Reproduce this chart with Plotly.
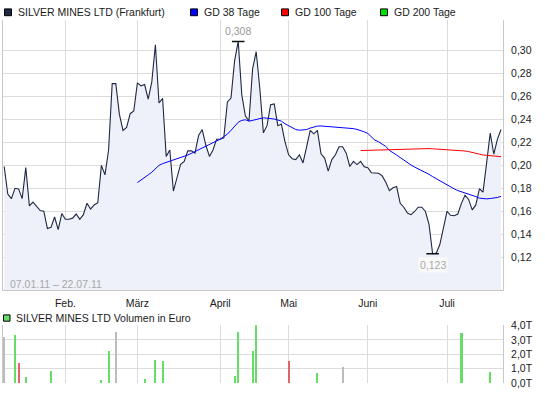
import plotly.graph_objects as go
import pandas as pd

# ---------------- data ----------------
start_date = "2011-01-07"
end_date = "2011-07-22"
exchange_holidays = ["2011-04-22", "2011-04-25"]

price = [
    0.199, 0.175, 0.171, 0.180, 0.1795, 0.171, 0.198, 0.1646, 0.168, 0.164,
    0.1606, 0.160, 0.145, 0.146, 0.155, 0.144, 0.158, 0.153, 0.153, 0.154,
    0.1576, 0.153, 0.157, 0.167, 0.162, 0.1655, 0.1674, 0.200, 0.1917, 0.2134,
    0.2712, 0.2712, 0.2444, 0.2304, 0.233, 0.245, 0.2473, 0.2718, 0.2693, 0.2704,
    0.2577, 0.2727, 0.305, 0.2543, 0.2583, 0.2078, 0.2134, 0.1776, 0.1894, 0.2010,
    0.2035, 0.2126, 0.2126, 0.2106, 0.2261, 0.2312, 0.2177, 0.2078, 0.2134, 0.2228,
    0.2228, 0.2239, 0.2552, 0.2586, 0.291, 0.308, 0.2614, 0.243, 0.2388, 0.284,
    0.299, 0.267, 0.2283, 0.2346, 0.2529, 0.2535, 0.2346, 0.236, 0.2205, 0.2092,
    0.2058, 0.205, 0.2092, 0.2021, 0.2162, 0.2304, 0.2275, 0.2304, 0.210, 0.2063,
    0.195, 0.205, 0.2092, 0.2162, 0.2162, 0.2106, 0.199, 0.2035, 0.2007, 0.2035,
    0.1987, 0.1979, 0.1936, 0.1936, 0.1931, 0.1908, 0.1852, 0.178, 0.1804, 0.1815,
    0.1669, 0.1635, 0.1584, 0.157, 0.1598, 0.1635, 0.1635, 0.1598, 0.1485, 0.123,
    0.1235, 0.131, 0.146, 0.1598, 0.1565, 0.1561, 0.1576, 0.1669, 0.174, 0.1703,
    0.1612, 0.1655, 0.1796, 0.1767, 0.2021, 0.2281, 0.2097, 0.2228, 0.2312,
]

gd38 = [
    0.185, 0.187, 0.189, 0.1917, 0.194, 0.197, 0.200, 0.2015, 0.2025, 0.2035,
    0.2045, 0.2055, 0.2065, 0.2078, 0.209, 0.2105, 0.212, 0.2135, 0.215, 0.2165,
    0.218, 0.2195, 0.221, 0.2228, 0.225, 0.2272, 0.2305, 0.2345, 0.2375, 0.2392,
    0.2397, 0.2385, 0.2392, 0.2402, 0.2412, 0.2414, 0.2411, 0.241, 0.2403, 0.2395,
    0.2385, 0.2362, 0.2345, 0.2325, 0.2312, 0.2306, 0.2306, 0.2312, 0.2325, 0.2336,
    0.2342, 0.2343, 0.2341, 0.2338, 0.2336, 0.2333, 0.2329, 0.2327, 0.2325, 0.2323,
    0.232, 0.2313, 0.2305, 0.2292, 0.2278, 0.2245, 0.2219, 0.2205, 0.2185, 0.2165,
    0.213, 0.2106, 0.209, 0.2068, 0.2045, 0.2025, 0.2003, 0.1985, 0.197, 0.1955,
    0.194, 0.1922, 0.1902, 0.1883, 0.1866, 0.1848, 0.1826, 0.181, 0.1795, 0.178,
    0.177, 0.1759, 0.1752, 0.1742, 0.1728, 0.1714, 0.1708, 0.1708, 0.1711, 0.1714,
    0.172, 0.173,
]

gd100 = [
    0.2129, 0.213, 0.2131, 0.2132, 0.2133, 0.2135, 0.2136, 0.2137, 0.2139, 0.214,
    0.2141, 0.2142, 0.2143, 0.2144, 0.2145, 0.2146, 0.2147, 0.2148, 0.2147, 0.2146,
    0.2144, 0.2142, 0.214, 0.2139, 0.2138, 0.2136, 0.2134, 0.2133, 0.213, 0.2125,
    0.212, 0.2112, 0.2103, 0.2095, 0.209, 0.2087, 0.2085, 0.2082, 0.2079, 0.2076,
]

vol_dates = [
    "2011-01-07", "2011-01-12", "2011-01-13", "2011-01-17", "2011-01-26",
    "2011-02-15", "2011-02-17", "2011-02-21", "2011-03-03", "2011-03-08",
    "2011-03-10", "2011-04-07", "2011-04-08", "2011-04-14", "2011-04-15",
    "2011-05-02", "2011-05-12", "2011-05-23", "2011-07-07", "2011-07-19",
]
vol_values = [  # thousand euros
    3.2, 3.31, 1.39, 0.46, 0.85,
    0.23, 2.22, 3.52, 0.30, 1.60,
    1.53, 0.53, 3.52, 2.22, 4.0,
    1.53, 0.71, 1.12, 3.45, 0.78,
]

month_labels = ["Feb.", "März", "April", "Mai", "Juni", "Juli"]
price_ticks = [0.12, 0.14, 0.16, 0.18, 0.20, 0.22, 0.24, 0.26, 0.28, 0.30]
vol_ticks = [0, 1, 2, 3, 4]
vol_tick_labels = ["0,0T", "1,0T", "2,0T", "3,0T", "4,0T"]

series_names = ["SILVER MINES LTD (Frankfurt)", "GD 38 Tage", "GD 100 Tage", "GD 200 Tage"]
series_colors = ["#1e2844", "#0000ff", "#ff0000", "#00dd00"]
volume_name = "SILVER MINES LTD Volumen in Euro"

# ---------------- derived ----------------
days = [d for d in pd.bdate_range(start_date, end_date)
        if d.strftime("%Y-%m-%d") not in exchange_holidays][:len(price)]
pos = list(range(len(days)))
day_str = [d.strftime("%Y-%m-%d") for d in days]

month_pos = [i for i in range(1, len(days)) if days[i].month != days[i - 1].month]

pos38 = pos[len(pos) - len(gd38):]
pos100 = pos[len(pos) - len(gd100):]

vol_pos = [day_str.index(d) for d in vol_dates]
vol_colors = []
for p in vol_pos:
    if p == 0 or price[p] == price[p - 1]:
        vol_colors.append("#bcbcbc")
    elif price[p] > price[p - 1]:
        vol_colors.append("#66dd66")
    else:
        vol_colors.append("#dd6666")

imax = max(pos, key=lambda i: price[i])
imin = min(pos, key=lambda i: price[i])

W, H = 545, 398
ML, MR = 3, 42
PW = W - ML - MR


def px(x):
    return (x - ML) / PW


def py(y):
    return (H - y) / H


FONT = "Liberation Sans, Arial, sans-serif"
GRID = "#dcdcdc"
LINE = "#c8c8c8"
TXT = "#1a1a1a"

fig = go.Figure()

fig.add_trace(go.Scatter(
    x=pos, y=price, mode="lines", fill="tozeroy", fillcolor="#eef1f9",
    line=dict(color=series_colors[0], width=1.1), hoverinfo="skip",
    xaxis="x", yaxis="y"))
fig.add_trace(go.Scatter(
    x=pos38, y=gd38, mode="lines", line=dict(color=series_colors[1], width=1),
    hoverinfo="skip", xaxis="x", yaxis="y"))
fig.add_trace(go.Scatter(
    x=pos100, y=gd100, mode="lines", line=dict(color=series_colors[2], width=1),
    hoverinfo="skip", xaxis="x", yaxis="y"))
fig.add_trace(go.Scatter(
    x=[imax, imin], y=[price[imax], price[imin]], mode="markers",
    marker=dict(symbol="line-ew", size=9, line=dict(width=1.5, color="#111111")),
    hoverinfo="skip", xaxis="x", yaxis="y"))

fig.add_trace(go.Bar(
    x=vol_pos, y=vol_values, width=0.6, marker=dict(color=vol_colors, line=dict(width=0)),
    hoverinfo="skip", xaxis="x2", yaxis="y2"))


def fmt(v):
    return ("%.3f" % v).replace(".", ",")


annotations = [
    dict(x=imax, y=price[imax], xref="x", yref="y", text=fmt(price[imax]), showarrow=False,
         yshift=10, font=dict(family=FONT, size=10.5, color="#999999")),
    dict(x=imin, y=price[imin], xref="x", yref="y", text=fmt(price[imin]), showarrow=False,
         yshift=-11, bgcolor="rgba(250,250,250,0.9)", font=dict(family=FONT, size=10.5, color="#aaaaaa")),
    dict(x=px(7.5), y=py(287), xref="paper", yref="paper", xanchor="left", yanchor="middle",
         text=f"{days[0].strftime('%d.%m.%y')} – {days[-1].strftime('%d.%m.%y')}", showarrow=False,
         font=dict(family=FONT, size=10.5, color="#a8a8a8")),
]
shapes = []

leg_x = [4.5, 190.5, 281.5, 380.5]
for name, col, lx in zip(series_names, series_colors, leg_x):
    shapes.append(dict(type="rect", xref="paper", yref="paper",
                       x0=px(lx), x1=px(lx + 7), y0=py(10), y1=py(3),
                       fillcolor=col, line=dict(color="#000000", width=1)))
    annotations.append(dict(x=px(lx + 11), y=py(6.5), xref="paper", yref="paper",
                            xanchor="left", yanchor="middle", text=name, showarrow=False,
                            font=dict(family=FONT, size=10.5, color=TXT)))

shapes.append(dict(type="rect", xref="paper", yref="paper",
                   x0=px(3.5), x1=px(10), y0=py(325), y1=py(318.5),
                   fillcolor="#66dd66", line=dict(color="#000000", width=1)))
annotations.append(dict(x=px(14), y=py(321.7), xref="paper", yref="paper",
                        xanchor="left", yanchor="middle", text=volume_name, showarrow=False,
                        font=dict(family=FONT, size=10.5, color=TXT)))

xr = [-0.33, 138.55]
axis_common = dict(showgrid=True, gridcolor=GRID, gridwidth=1, zeroline=False, ticks="")
tickfont = dict(family=FONT, size=10.5, color=TXT)

fig.update_layout(
    width=W, height=H,
    margin=dict(l=ML, r=MR, t=0, b=0, pad=0),
    paper_bgcolor="white", plot_bgcolor="white",
    showlegend=False,
    separators=",.",
    font=dict(family=FONT, size=10.5, color=TXT),
    xaxis=dict(domain=[0, 1], anchor="y", range=xr, tickmode="array", tickvals=month_pos,
               ticktext=month_labels, showline=True, linecolor=LINE, mirror=False,
               ticklabelstandoff=3, tickfont=tickfont, **axis_common),
    yaxis=dict(domain=[py(293.3), py(14)], anchor="x", side="right", range=[0.091, 0.327],
               tickmode="array", tickvals=price_ticks, tickformat=".2f", showline=True,
               linecolor=LINE, mirror=True, ticklabelstandoff=5, tickfont=tickfont,
               **axis_common),
    xaxis2=dict(domain=[0, 1], anchor="y2", range=xr, tickmode="array", tickvals=month_pos,
                showticklabels=False, showline=False, **axis_common),
    yaxis2=dict(domain=[py(389), py(329.3)], anchor="x2", side="right", range=[0, 4],
                tickmode="array", tickvals=vol_ticks, ticktext=vol_tick_labels, showline=True,
                linecolor=LINE, mirror=True, ticklabelstandoff=5, tickfont=tickfont,
                **axis_common),
    annotations=annotations,
    shapes=shapes,
    bargap=0,
)

fig.write_html("out.html", config={"displayModeBar": False, "staticPlot": True},
               post_script="document.body.style.margin='0';")
